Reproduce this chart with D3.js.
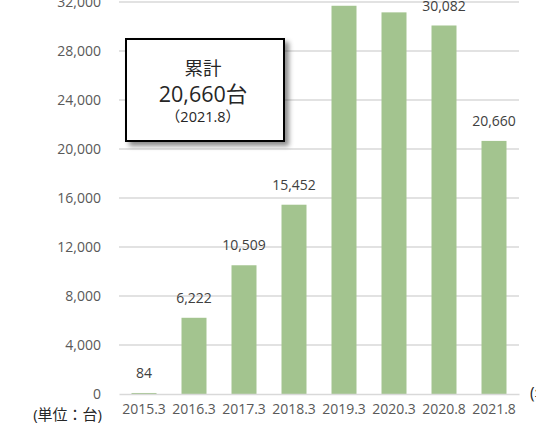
<!DOCTYPE html>
<html>
<head>
<meta charset="utf-8">
<script src="https://cdn.jsdelivr.net/npm/d3@7"></script>
<style>
  body { margin: 0; background: #fff; }
  text { font-family: "Open Sans", "Noto Sans CJK JP", sans-serif; }
</style>
</head>
<body>
<script>
// data
var categories = ["2015.3", "2016.3", "2017.3", "2018.3", "2019.3", "2020.3", "2020.8", "2021.8"];
var values = [84, 6222, 10509, 15452, 31693, 31154, 30082, 20660];
var yTicks = [0, 4000, 8000, 12000, 16000, 20000, 24000, 28000, 32000];
var boxLines = ["累計", "20,660台", "（2021.8）"];

var width = 536, height = 427;
var margin = {left: 119, right: 17, top: 2, bottom: 33};

var svg = d3.select("body").append("svg")
  .attr("width", width)
  .attr("height", height);

var x = d3.scaleBand()
  .domain(categories)
  .range([margin.left, width - margin.right])
  .paddingInner(0.5)
  .paddingOuter(0.25);

var y = d3.scaleLinear()
  .domain([0, 32000])
  .range([height - margin.bottom, margin.top]);

var fmt = d3.format(",");

// gridlines
svg.append("g")
  .selectAll("line")
  .data(yTicks.slice(1))
  .enter().append("line")
    .attr("x1", margin.left)
    .attr("x2", width - margin.right)
    .attr("y1", function(d) { return y(d); })
    .attr("y2", function(d) { return y(d); })
    .attr("stroke", "#d9d9d9")
    .attr("stroke-width", 1.3);

// y axis labels
var yAxis = svg.append("g")
  .attr("transform", "translate(" + (margin.left - 18) + ",0)")
  .call(d3.axisLeft(y).tickValues(yTicks).tickFormat(fmt).tickSize(0).tickPadding(0));
yAxis.select(".domain").remove();
yAxis.selectAll("text")
  .attr("font-size", 14)
  .attr("fill", "#595959")
  .attr("font-family", "Open Sans");

// bars
svg.append("g")
  .selectAll("rect")
  .data(values)
  .enter().append("rect")
    .attr("x", function(d, i) { return x(categories[i]); })
    .attr("y", function(d) { return y(d); })
    .attr("width", x.bandwidth())
    .attr("height", function(d) { return y(0) - y(d); })
    .attr("fill", "#a3c48f");

// x axis
var xAxis = svg.append("g")
  .attr("transform", "translate(0," + y(0) + ")")
  .call(d3.axisBottom(x).tickSize(0).tickPadding(10));
xAxis.select(".domain")
  .attr("stroke", "#d9d9d9")
  .attr("stroke-width", 1.3);
xAxis.selectAll("text")
  .attr("font-size", 14)
  .attr("fill", "#595959")
  .attr("font-family", "Open Sans");

// value labels
svg.append("g")
  .selectAll("text")
  .data(values)
  .enter().append("text")
    .attr("x", function(d, i) { return x(categories[i]) + x.bandwidth() / 2; })
    .attr("y", function(d) { return y(d) - 15; })
    .attr("text-anchor", "middle")
    .attr("font-size", 14)
    .attr("fill", "#404040")
    .text(function(d) { return fmt(d); });

// unit labels
svg.append("text")
  .attr("x", 102)
  .attr("y", 420)
  .attr("text-anchor", "end")
  .attr("font-size", 15)
  .attr("fill", "#262626")
  .text("(単位：台)");

svg.append("text")
  .attr("x", 530)
  .attr("y", 399)
  .attr("font-size", 15.5)
  .attr("fill", "#262626")
  .text("(年.月)");

// summary box
var defs = svg.append("defs");
var f = defs.append("filter").attr("id", "shadow")
  .attr("x", "-10%").attr("y", "-10%").attr("width", "130%").attr("height", "130%");
f.append("feDropShadow")
  .attr("dx", 4).attr("dy", 4)
  .attr("stdDeviation", 2.5)
  .attr("flood-color", "#000")
  .attr("flood-opacity", 0.45);

var box = {x: 126, y: 39, w: 158, h: 102};
svg.append("rect")
  .attr("x", box.x)
  .attr("y", box.y)
  .attr("width", box.w)
  .attr("height", box.h)
  .attr("fill", "#fff")
  .attr("stroke", "#000")
  .attr("stroke-width", 2)
  .attr("filter", "url(#shadow)");

var cx = box.x + box.w / 2 - 2;
svg.append("text")
  .attr("x", cx).attr("y", 75)
  .attr("text-anchor", "middle")
  .attr("font-size", 18.5)
  .attr("fill", "#262626")
  .text(boxLines[0]);
svg.append("text")
  .attr("x", cx).attr("y", 102)
  .attr("text-anchor", "middle")
  .attr("font-size", 21.5)
  .attr("fill", "#262626")
  .text(boxLines[1]);
svg.append("text")
  .attr("x", cx).attr("y", 122)
  .attr("text-anchor", "middle")
  .attr("font-size", 14.5)
  .attr("fill", "#262626")
  .text(boxLines[2]);
</script>
</body>
</html>
